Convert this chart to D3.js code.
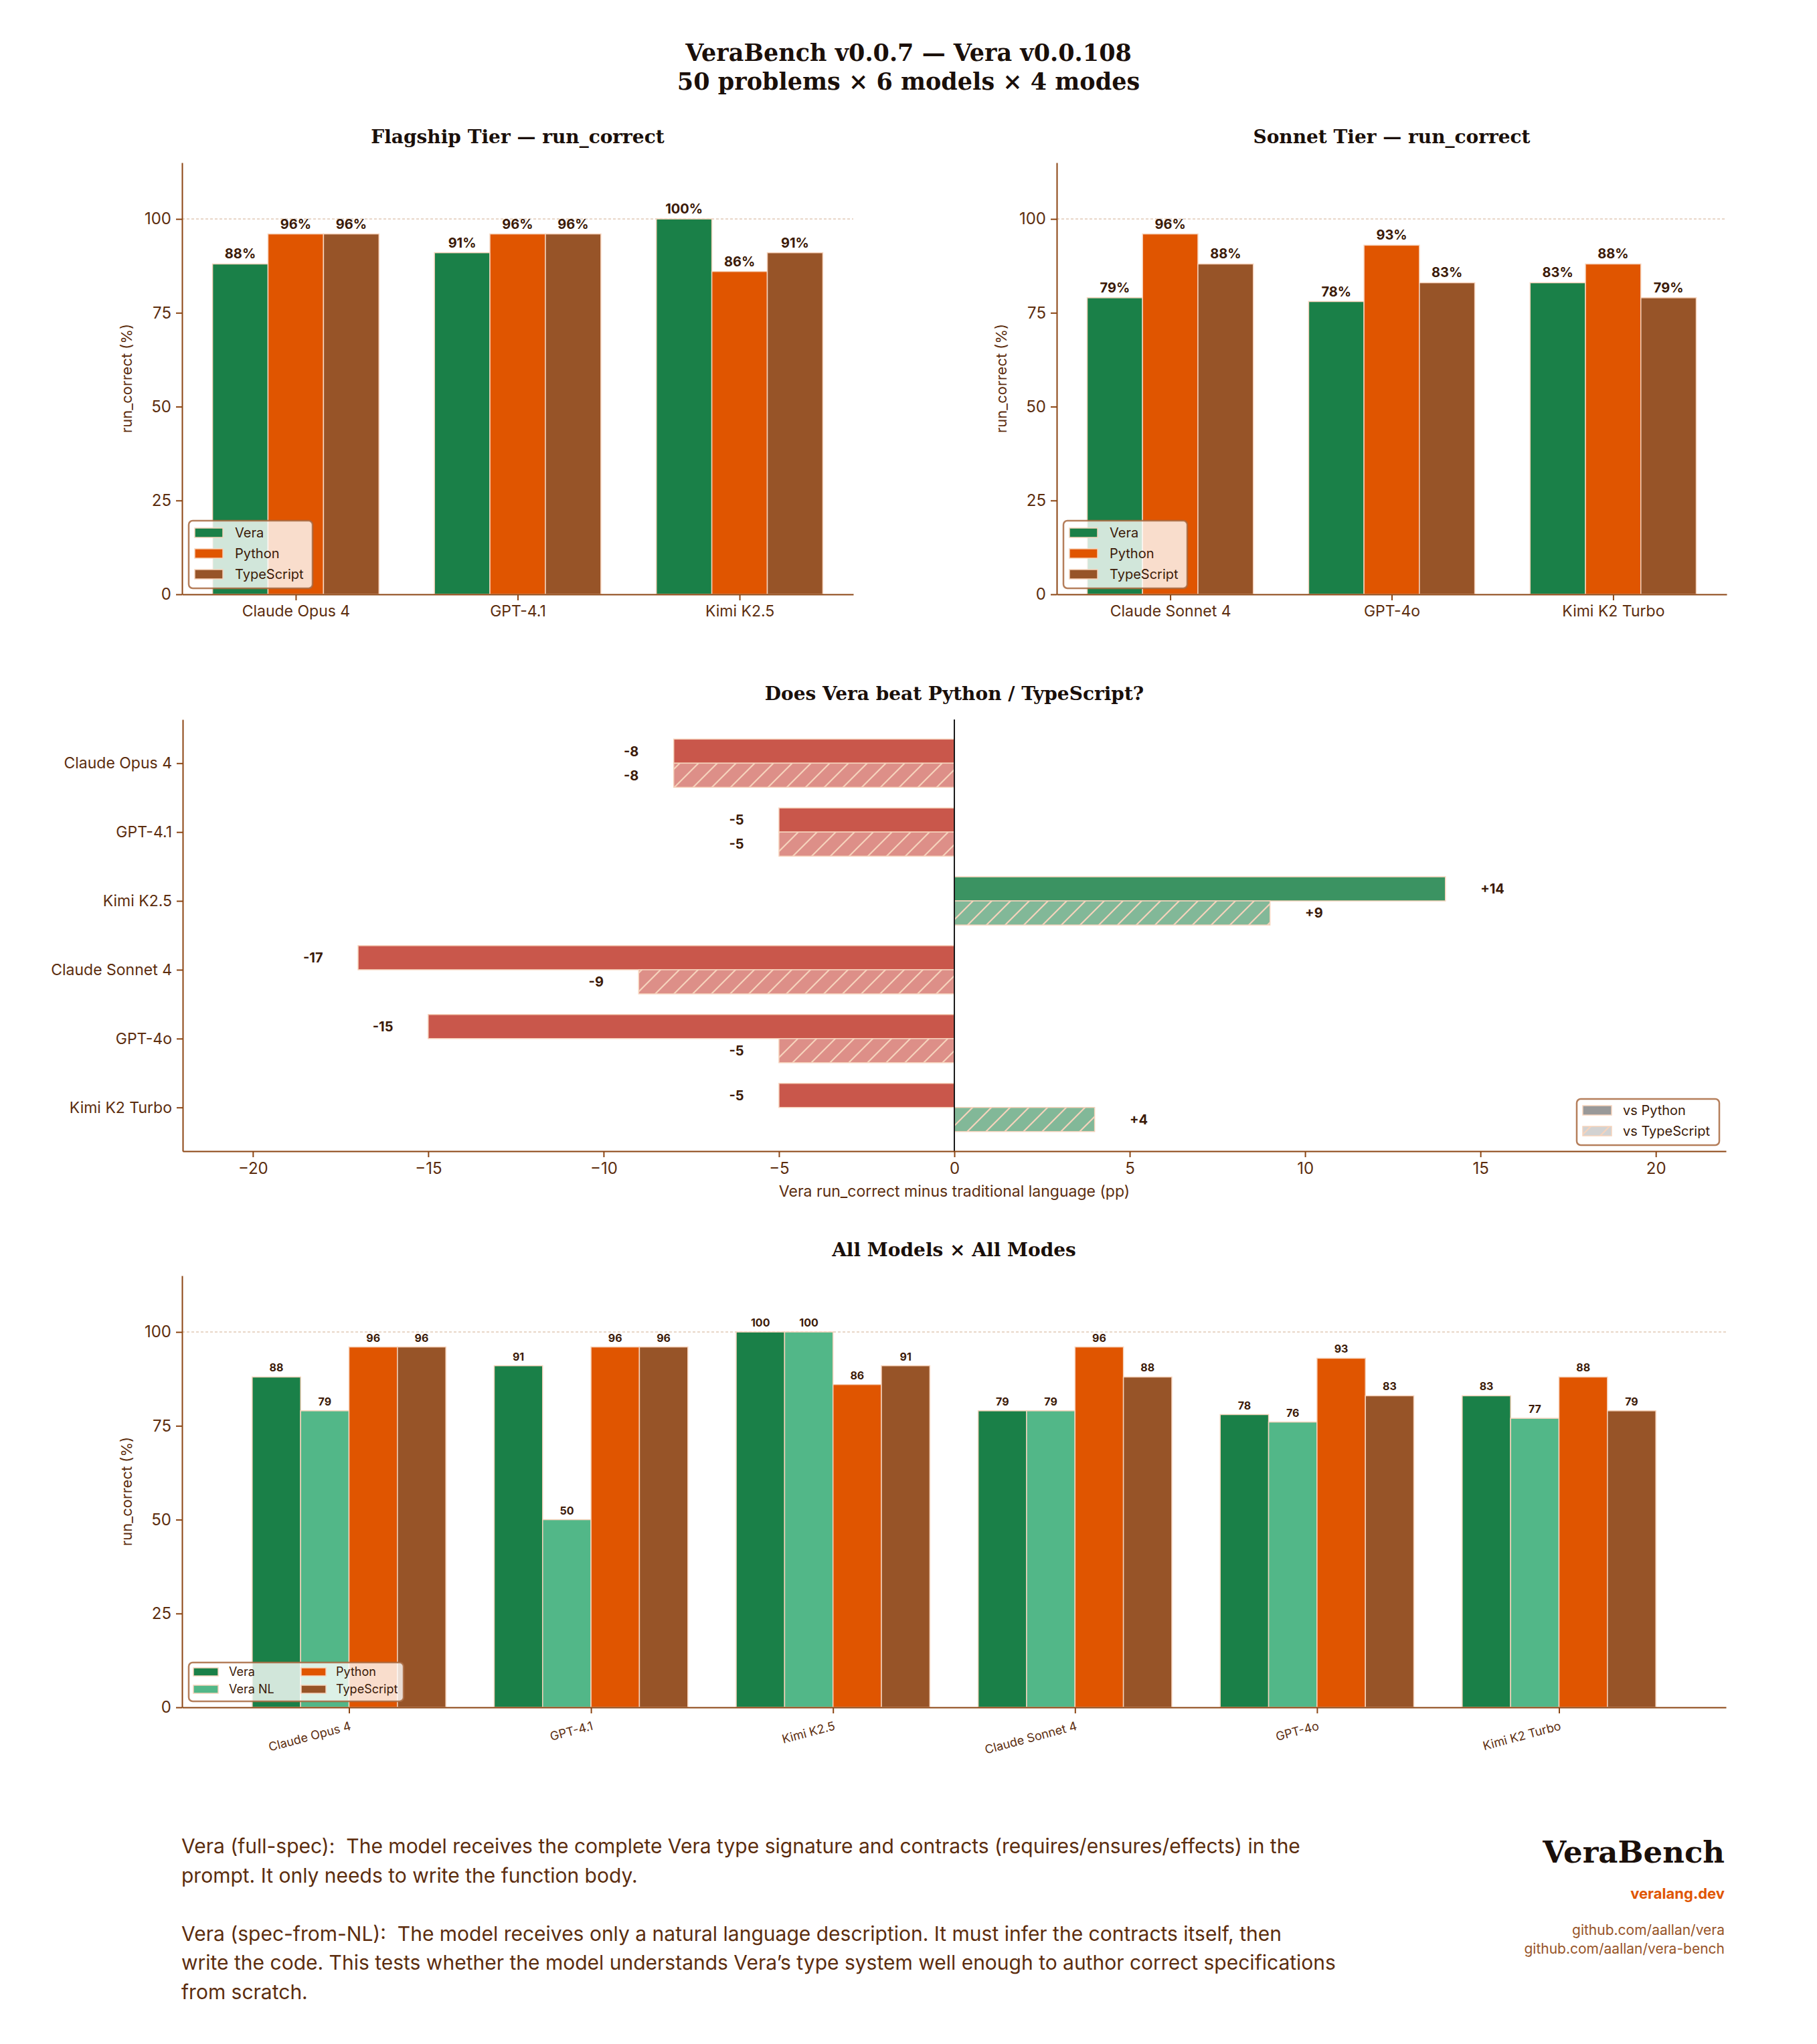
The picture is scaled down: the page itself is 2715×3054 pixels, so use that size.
<!DOCTYPE html>
<html>
<head>
<meta charset="utf-8">
<script src="https://cdn.jsdelivr.net/npm/d3@7"></script>
<style>
  body { margin: 0; background: #fff; }
  text { white-space: pre; }
</style>
</head>
<body>
<div id="canvas"></div>
<script>
// ---- data ----
const flagshipModels = ["Claude Opus 4", "GPT-4.1", "Kimi K2.5"];
const sonnetModels = ["Claude Sonnet 4", "GPT-4o", "Kimi K2 Turbo"];
const allModels = ["Claude Opus 4", "GPT-4.1", "Kimi K2.5", "Claude Sonnet 4", "GPT-4o", "Kimi K2 Turbo"];

const veraFull = [88, 91, 100, 79, 78, 83];
const veraNL = [79, 50, 100, 79, 76, 77];
const pythonScore = [96, 96, 86, 96, 93, 88];
const typescriptScore = [96, 96, 91, 88, 83, 79];

const deltaPython = [-8, -5, 14, -17, -15, -5];
const deltaTypeScript = [-8, -5, 9, -9, -5, 4];

const pctTicks = [0, 25, 50, 75, 100];
const deltaTicks = [-20, -15, -10, -5, 0, 5, 10, 15, 20];

const footerLines = [
  "Vera (full-spec):  The model receives the complete Vera type signature and contracts (requires/ensures/effects) in the",
  "prompt. It only needs to write the function body.",
  "",
  "Vera (spec-from-NL):  The model receives only a natural language description. It must infer the contracts itself, then",
  "write the code. This tests whether the model understands Vera\u2019s type system well enough to author correct specifications",
  "from scratch."
];

// ---- style ----
const INK = "#1a0f0a", TICK = "#5c2d0e", SPINE = "#8b4513", LABEL = "#3b1a08", EDGE = "#f6d3bc";
const C_VERA = "#1a8048", C_VERANL = "#52b788", C_PY = "#e05500", C_TS = "#975428";
const SERIF = "'DejaVu Serif', serif";

const W = 2715, H = 3054;
const svg = d3.select("#canvas")
  .append("svg")
    .attr("width", W)
    .attr("height", H)
    .style("font-family", "Inter, sans-serif");

// hatch pattern (lines only, laid over a filled rect)
const defs = svg.append("defs");
const pat = defs.append("pattern")
  .attr("id", "hatch")
  .attr("patternUnits", "userSpaceOnUse")
  .attr("width", 28).attr("height", 28);
pat.append("path")
  .attr("d", "M-7,7 L7,-7 M0,28 L28,0 M21,35 L35,21")
  .attr("stroke", EDGE).attr("stroke-width", 2.2);

function styleAxis(g, fontSize) {
  g.select(".domain").attr("stroke", SPINE).attr("stroke-width", 2);
  g.selectAll(".tick line").attr("stroke", SPINE).attr("stroke-width", 2);
  g.selectAll(".tick text").attr("fill", TICK).attr("font-size", fontSize)
    .attr("font-family", "Inter, sans-serif");
}

function legend(x, y, w, h, items, opt) {
  const g = svg.append("g");
  g.append("rect")
    .attr("x", x).attr("y", y).attr("width", w).attr("height", h)
    .attr("rx", 6)
    .attr("fill", "#fff").attr("fill-opacity", 0.8)
    .attr("stroke", "#a8683f").attr("stroke-opacity", 0.85).attr("stroke-width", 2.5);
  items.forEach(function (it) {
    g.append("rect")
      .attr("x", it.px).attr("y", it.cy - opt.ph / 2)
      .attr("width", opt.pw).attr("height", opt.ph)
      .attr("fill", it.color).attr("stroke", EDGE).attr("stroke-width", 1.5);
    if (it.hatch) {
      g.append("rect")
        .attr("x", it.px).attr("y", it.cy - opt.ph / 2)
        .attr("width", opt.pw).attr("height", opt.ph)
        .attr("fill", "url(#hatch)");
    }
    g.append("text")
      .attr("x", it.tx).attr("y", it.cy)
      .attr("dy", "0.36em")
      .attr("fill", LABEL).attr("font-size", opt.fs)
      .text(it.label);
  });
}

function groupedBars(o) {
  const n = o.models.length;
  const x = d3.scaleLinear().domain(o.xdom).range([o.left, o.right]);
  const y = d3.scaleLinear().domain([0, 115]).range([o.bottom, o.top]);
  const g = svg.append("g");
  const bwPx = x(o.bw) - x(0);

  g.append("line")
    .attr("x1", o.left).attr("x2", o.right)
    .attr("y1", y(100)).attr("y2", y(100))
    .attr("stroke", "#dcbfa8").attr("stroke-width", 1.3)
    .attr("stroke-dasharray", "4,3");

  o.series.forEach(function (s, k) {
    g.append("g").selectAll("rect")
      .data(s.values)
      .join("rect")
        .attr("x", (d, i) => x(i + o.offsets[k]) - bwPx / 2)
        .attr("y", d => y(d))
        .attr("width", bwPx)
        .attr("height", d => y(0) - y(d))
        .attr("fill", s.color)
        .attr("stroke", EDGE).attr("stroke-width", 1.5);
    g.append("g").selectAll("text")
      .data(s.values)
      .join("text")
        .attr("x", (d, i) => x(i + o.offsets[k]))
        .attr("y", d => y(d) - 8)
        .attr("text-anchor", "middle")
        .attr("font-weight", "bold")
        .attr("font-size", o.labelSize)
        .attr("fill", LABEL)
        .text(d => d + o.suffix);
  });

  const ya = g.append("g")
    .attr("transform", "translate(" + o.left + ",0)")
    .call(d3.axisLeft(y).tickValues(pctTicks).tickSize(9).tickPadding(7).tickSizeOuter(0));
  styleAxis(ya, 24);

  const xa = g.append("g")
    .attr("transform", "translate(0," + o.bottom + ")")
    .call(d3.axisBottom(x).tickValues(d3.range(n)).tickFormat(i => o.models[i])
      .tickSize(9).tickPadding(8).tickSizeOuter(0));
  styleAxis(xa, o.xFont);
  if (o.rotate) {
    xa.selectAll(".tick text")
      .attr("text-anchor", "end")
      .attr("dy", 0)
      .attr("y", 0)
      .attr("dominant-baseline", "hanging")
      .attr("transform", "translate(0,20) rotate(-15)");
  }

  g.append("text")
    .attr("transform", "translate(" + o.ylabX + "," + (o.top + o.bottom) / 2 + ") rotate(-90)")
    .attr("text-anchor", "middle")
    .attr("fill", TICK).attr("font-size", 22)
    .text("run_correct (%)");

  g.append("text")
    .attr("x", (o.left + o.right) / 2).attr("y", o.titleY)
    .attr("text-anchor", "middle")
    .attr("font-family", SERIF).attr("font-weight", "bold")
    .attr("font-size", 28).attr("fill", INK)
    .text(o.title);
}

// ---- header ----
svg.append("text")
  .attr("x", W / 2).attr("y", 91)
  .attr("text-anchor", "middle")
  .attr("font-family", SERIF).attr("font-weight", "bold")
  .attr("font-size", 35).attr("fill", INK)
  .text("VeraBench v0.0.7 \u2014 Vera v0.0.108");
svg.append("text")
  .attr("x", W / 2).attr("y", 134)
  .attr("text-anchor", "middle")
  .attr("font-family", SERIF).attr("font-weight", "bold")
  .attr("font-size", 35).attr("fill", INK)
  .text("50 problems \u00d7 6 models \u00d7 4 modes");

// ---- top two tier charts ----
groupedBars({
  left: 272, right: 1275, top: 243, bottom: 888,
  xdom: [-0.5125, 2.5125], bw: 0.25, offsets: [-0.25, 0, 0.25],
  models: flagshipModels,
  series: [
    { values: veraFull.slice(0, 3), color: C_VERA },
    { values: pythonScore.slice(0, 3), color: C_PY },
    { values: typescriptScore.slice(0, 3), color: C_TS }
  ],
  labelSize: 20, suffix: "%", xFont: 23, ylabX: 197, titleY: 214,
  title: "Flagship Tier \u2014 run_correct"
});
groupedBars({
  left: 1579, right: 2580, top: 243, bottom: 888,
  xdom: [-0.5125, 2.5125], bw: 0.25, offsets: [-0.25, 0, 0.25],
  models: sonnetModels,
  series: [
    { values: veraFull.slice(3), color: C_VERA },
    { values: pythonScore.slice(3), color: C_PY },
    { values: typescriptScore.slice(3), color: C_TS }
  ],
  labelSize: 20, suffix: "%", xFont: 23, ylabX: 1504, titleY: 214,
  title: "Sonnet Tier \u2014 run_correct"
});

const tierLegend = function (x0) {
  legend(x0 + 10, 778, 185, 101, [
    { label: "Vera", color: C_VERA, px: x0 + 19, tx: x0 + 79, cy: 796 },
    { label: "Python", color: C_PY, px: x0 + 19, tx: x0 + 79, cy: 827 },
    { label: "TypeScript", color: C_TS, px: x0 + 19, tx: x0 + 79, cy: 858 }
  ], { pw: 42, ph: 14, fs: 20 });
};
tierLegend(272);
tierLegend(1579);

// ---- delta chart ----
(function () {
  const left = 273, right = 2579, top = 1075, bottom = 1720;
  const bh = 0.35;
  const x = d3.scaleLinear().domain([-22, 22]).range([left, right]);
  const y = d3.scaleLinear().domain([-0.635, 5.635]).range([top, bottom]);
  const g = svg.append("g");

  const sets = [
    { values: deltaPython, off: -bh, neg: "#c9574b", pos: "#3b9362", hatch: false },
    { values: deltaTypeScript, off: 0, neg: "#dd8f88", pos: "#82b898", hatch: true }
  ];
  sets.forEach(function (s) {
    g.append("g").selectAll("rect")
      .data(s.values)
      .join("rect")
        .attr("x", d => x(Math.min(0, d)))
        .attr("y", (d, i) => y(i + s.off))
        .attr("width", d => Math.abs(x(d) - x(0)))
        .attr("height", y(bh) - y(0))
        .attr("fill", d => d < 0 ? s.neg : s.pos)
        .attr("stroke", EDGE).attr("stroke-width", 1.5);
    if (s.hatch) {
      g.append("g").selectAll("rect")
        .data(s.values)
        .join("rect")
          .attr("x", d => x(Math.min(0, d)))
          .attr("y", (d, i) => y(i + s.off))
          .attr("width", d => Math.abs(x(d) - x(0)))
          .attr("height", y(bh) - y(0))
          .attr("fill", "url(#hatch)");
    }
    g.append("g").selectAll("text")
      .data(s.values)
      .join("text")
        .attr("x", d => d < 0 ? x(d - 1) : x(d + 1))
        .attr("y", (d, i) => y(i + s.off + bh / 2))
        .attr("dy", "0.36em")
        .attr("text-anchor", d => d < 0 ? "end" : "start")
        .attr("font-weight", "bold").attr("font-size", 20)
        .attr("fill", LABEL)
        .text(d => d > 0 ? "+" + d : String(d));
  });

  g.append("line")
    .attr("x1", x(0)).attr("x2", x(0))
    .attr("y1", top).attr("y2", bottom)
    .attr("stroke", "#1a1a1a").attr("stroke-width", 2);

  const xa = g.append("g")
    .attr("transform", "translate(0," + bottom + ")")
    .call(d3.axisBottom(x).tickValues(deltaTicks).tickFormat(d => d < 0 ? "\u2212" + (-d) : d)
      .tickSize(9).tickPadding(8).tickSizeOuter(0));
  styleAxis(xa, 24);

  const ya = g.append("g")
    .attr("transform", "translate(" + left + ",0)")
    .call(d3.axisLeft(y).tickValues(d3.range(allModels.length)).tickFormat(i => allModels[i])
      .tickSize(9).tickPadding(7).tickSizeOuter(0));
  styleAxis(ya, 23);

  g.append("text")
    .attr("x", (left + right) / 2).attr("y", 1788)
    .attr("text-anchor", "middle")
    .attr("fill", TICK).attr("font-size", 23)
    .text("Vera run_correct minus traditional language (pp)");

  g.append("text")
    .attr("x", (left + right) / 2).attr("y", 1046)
    .attr("text-anchor", "middle")
    .attr("font-family", SERIF).attr("font-weight", "bold")
    .attr("font-size", 28).attr("fill", INK)
    .text("Does Vera beat Python / TypeScript?");

  legend(2356, 1642, 213, 69, [
    { label: "vs Python", color: "#999999", px: 2365, tx: 2425, cy: 1659 },
    { label: "vs TypeScript", color: "#d2d2d2", hatch: true, px: 2365, tx: 2425, cy: 1690 }
  ], { pw: 43, ph: 14, fs: 20 });
})();

// ---- all models x all modes ----
groupedBars({
  left: 272, right: 2579, top: 1906, bottom: 2551,
  xdom: [-0.69, 5.69], bw: 0.2, offsets: [-0.3, -0.1, 0.1, 0.3],
  models: allModels,
  series: [
    { values: veraFull, color: C_VERA },
    { values: veraNL, color: C_VERANL },
    { values: pythonScore, color: C_PY },
    { values: typescriptScore, color: C_TS }
  ],
  labelSize: 16, suffix: "", xFont: 18, rotate: true, ylabX: 197, titleY: 1877,
  title: "All Models \u00d7 All Modes"
});
legend(282, 2484, 321, 58, [
  { label: "Vera", color: C_VERA, px: 289, tx: 342, cy: 2498 },
  { label: "Vera NL", color: C_VERANL, px: 289, tx: 342, cy: 2524 },
  { label: "Python", color: C_PY, px: 450, tx: 502, cy: 2498 },
  { label: "TypeScript", color: C_TS, px: 450, tx: 502, cy: 2524 }
], { pw: 37, ph: 12, fs: 18 });

// ---- footer ----
svg.append("g").selectAll("text")
  .data(footerLines)
  .join("text")
    .attr("x", 271)
    .attr("y", (d, i) => 2769 + i * 43.5)
    .attr("fill", TICK).attr("font-size", 30)
    .text(d => d);

svg.append("text")
  .attr("x", 2577).attr("y", 2783)
  .attr("text-anchor", "end")
  .attr("font-family", SERIF).attr("font-weight", "bold")
  .attr("font-size", 45).attr("fill", INK)
  .text("VeraBench");
svg.append("text")
  .attr("x", 2577).attr("y", 2837)
  .attr("text-anchor", "end")
  .attr("font-weight", "bold").attr("font-size", 22).attr("fill", C_PY)
  .text("veralang.dev");
svg.append("text")
  .attr("x", 2577).attr("y", 2891)
  .attr("text-anchor", "end")
  .attr("font-size", 21).attr("fill", C_TS)
  .text("github.com/aallan/vera");
svg.append("text")
  .attr("x", 2577).attr("y", 2919)
  .attr("text-anchor", "end")
  .attr("font-size", 21).attr("fill", C_TS)
  .text("github.com/aallan/vera-bench");
</script>
</body>
</html>
